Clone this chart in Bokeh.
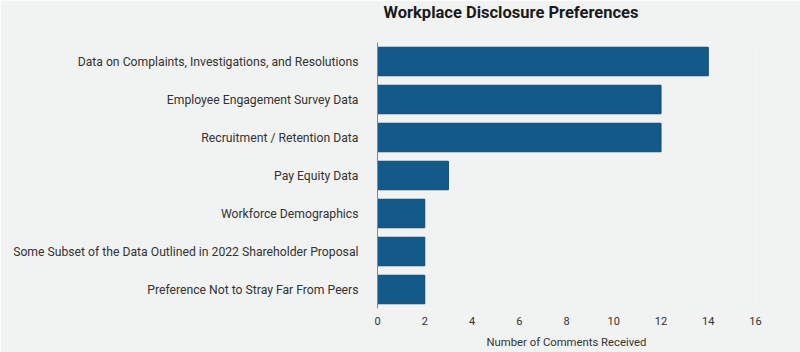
from bokeh.plotting import figure
from bokeh.models import ColumnDataSource, FixedTicker, Title
from bokeh.embed import file_html
from bokeh.resources import INLINE

categories = [
    "Data on Complaints, Investigations, and Resolutions",
    "Employee Engagement Survey Data",
    "Recruitment / Retention Data",
    "Pay Equity Data",
    "Workforce Demographics",
    "Some Subset of the Data Outlined in 2022 Shareholder Proposal",
    "Preference Not to Stray Far From Peers",
]
counts = [14, 12, 12, 3, 2, 2, 2]
x_ticks = [0, 2, 4, 6, 8, 10, 12, 14, 16]
title_text = "Workplace Disclosure Preferences"

BG = "#f1f2f2"
FONT = "Roboto"

src = ColumnDataSource(dict(cat=categories, n=counts))

p = figure(
    width=800, height=352,
    y_range=list(reversed(categories)),
    x_range=(0, 16),
    output_backend="svg", toolbar_location=None,
    min_border_left=377, min_border_right=45, min_border_top=42, min_border_bottom=44,
)
p.background_fill_color = BG
p.border_fill_color = BG
p.outline_line_color = None
p.grid.visible = False

p.hbar(y="cat", right="n", left=0, height=0.75, source=src,
       fill_color="#135a8a", line_color="#0e4770", line_width=1)

# spacer between title and plot area
p.add_layout(Title(text=" ", text_font_size="10px", standoff=8,
                   text_color=BG), "above")
p.add_layout(Title(text=title_text, text_font=FONT, text_font_style="bold",
                   text_font_size="16.5px", text_color="#1a1a1a",
                   align="left", offset=6, standoff=0), "above")

p.xaxis.ticker = FixedTicker(ticks=x_ticks)
p.xaxis.axis_line_color = None
p.xaxis.major_tick_line_color = None
p.xaxis.major_tick_out = 0
p.xaxis.major_tick_in = 0
p.xaxis.minor_tick_line_color = None
p.xaxis.major_label_text_font = FONT
p.xaxis.major_label_text_font_size = "11px"
p.xaxis.major_label_text_color = "#333333"
p.xaxis.major_label_standoff = 8
p.xaxis.axis_label = "Number of Comments Received"
p.xaxis.axis_label_text_font = FONT
p.xaxis.axis_label_text_font_size = "11.3px"
p.xaxis.axis_label_text_font_style = "normal"
p.xaxis.axis_label_text_color = "#333333"
p.xaxis.axis_label_standoff = 8

p.yaxis.axis_line_color = "#888888"
p.yaxis.major_tick_line_color = None
p.yaxis.major_tick_out = 0
p.yaxis.major_tick_in = 0
p.yaxis.minor_tick_line_color = None
p.yaxis.major_label_text_font = FONT
p.yaxis.major_label_text_font_size = "12.2px"
p.yaxis.major_label_text_color = "#333333"
p.yaxis.major_label_standoff = 19

open("out.html", "w").write(file_html(p, INLINE))
